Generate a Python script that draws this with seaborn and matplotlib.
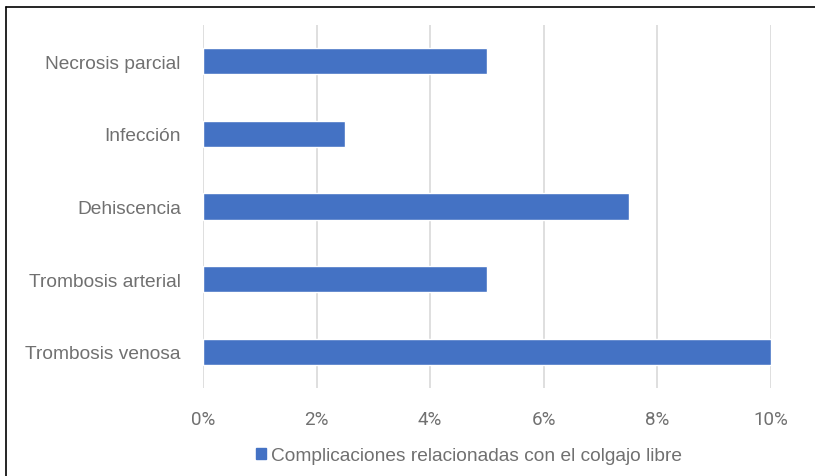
import matplotlib
matplotlib.use("Agg")
import matplotlib.pyplot as plt
import seaborn as sns
import pandas as pd
from matplotlib.lines import Line2D
from matplotlib.ticker import FuncFormatter

categories = ["Necrosis parcial", "Infección", "Dehiscencia", "Trombosis arterial", "Trombosis venosa"]
values = [5.0, 2.5, 7.5, 5.0, 10.0]
series_name = "Complicaciones relacionadas con el colgajo libre"
x_ticks = [0, 2, 4, 6, 8, 10]

df = pd.DataFrame({"cat": categories, "val": values, "serie": [series_name] * len(categories)})

sns.set_theme(style="white")
plt.rcParams["font.family"] = ["Liberation Sans", "DejaVu Sans"]

text_color = "#707070"

fig = plt.figure(figsize=(8.15, 4.77), dpi=100)
ax = fig.add_axes([203 / 815, 1 - 389 / 477, (771 - 203) / 815, (389 - 26) / 477])

sns.barplot(data=df, x="val", y="cat", hue="serie", palette=["#4472C4"],
            width=0.36, ax=ax, legend=False, saturation=1)

ax.set_xlim(0, 10)
ax.set_ylim(4.5, -0.5)
ax.set_xticks(x_ticks)
ax.xaxis.set_major_formatter(FuncFormatter(lambda v, p: f"{v:.0f}%"))
ax.grid(axis="x", color="#D9D9D9", linewidth=1.2)
ax.set_axisbelow(True)
for s in ax.spines.values():
    s.set_visible(False)
ax.set_xlabel("")
ax.set_ylabel("")
ax.tick_params(axis="both", length=0, colors=text_color)
ax.tick_params(axis="y", labelsize=13.8, pad=16)
ax.tick_params(axis="x", pad=16)
for t in ax.get_xticklabels():
    t.set_family(["Roboto", "Liberation Sans"])
    t.set_fontsize(13.5)

handle = plt.Rectangle((0, 0), 1, 1, color="#4472C4")
leg = fig.legend([handle], [series_name], loc="center", bbox_to_anchor=(469 / 815, 1 - 457 / 477),
                 frameon=False, fontsize=13.8, handlelength=0.55, handleheight=0.55,
                 handletextpad=0.25, labelcolor=text_color)

# outer border (left and top)
fig.add_artist(Line2D([6 / 815, 6 / 815], [0, 1 - 8 / 477], color="black", linewidth=1.2, transform=fig.transFigure))
fig.add_artist(Line2D([6 / 815, 1], [1 - 8 / 477, 1 - 8 / 477], color="black", linewidth=1.2, transform=fig.transFigure))

fig.savefig("out.png", dpi=100)
